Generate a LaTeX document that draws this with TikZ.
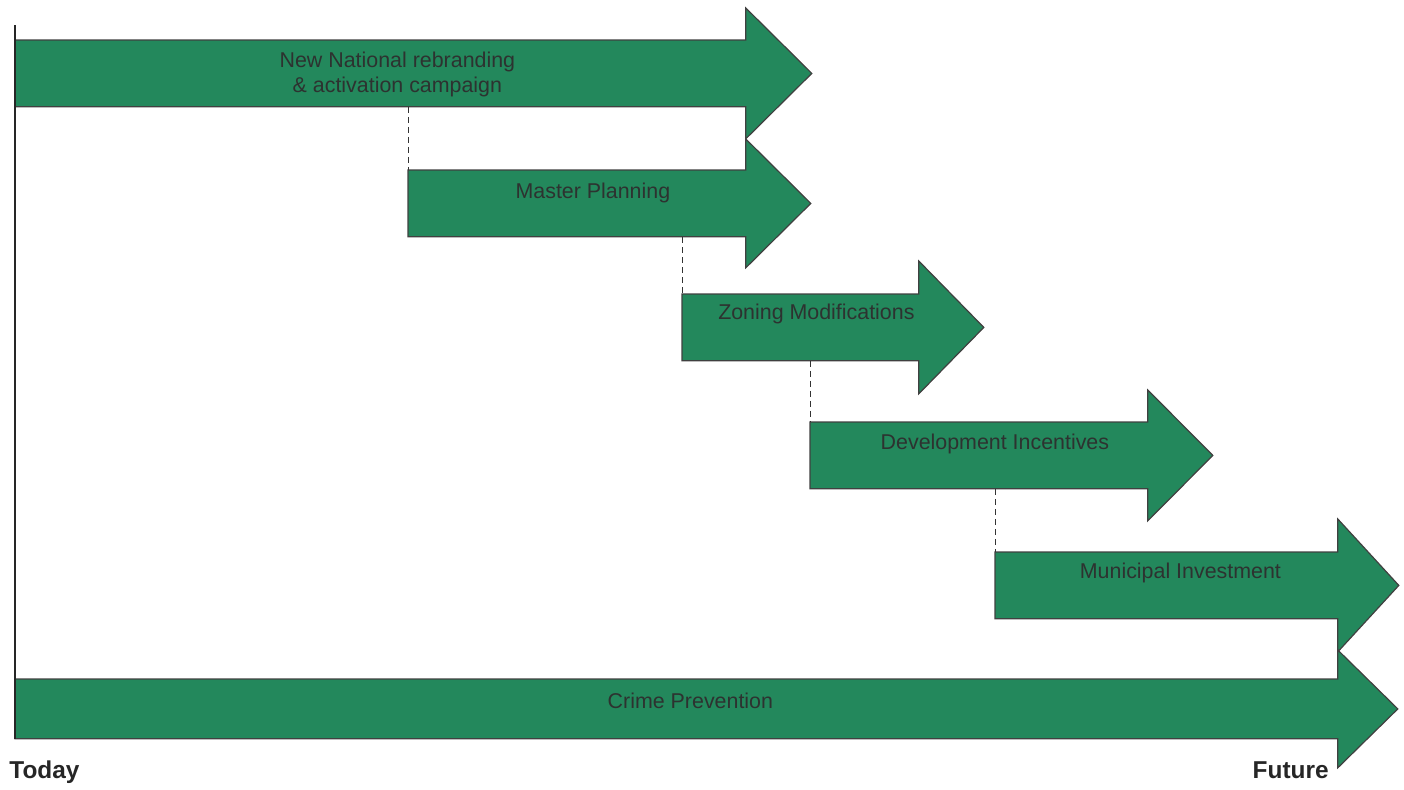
\documentclass[tikz,border=0pt]{standalone}
\usepackage{fontspec}
\setmainfont{Liberation Sans}
\usepackage{xcolor}
\usetikzlibrary{calc, backgrounds}

\definecolor{bargreen}{RGB}{35,136,92}
\definecolor{bartext}{RGB}{45,50,48}

\begin{document}
\begin{tikzpicture}[
x=0.5pt, y=-0.5pt,
body/.style={rectangle, inner sep=0pt, anchor=north west, minimum height=33pt},
bartxt/.style={font=\fontsize{10.7}{12.5}\selectfont, text=bartext, align=center},
barshape/.style={fill=bargreen, draw=black!75, line width=0.6pt, line join=miter},
guide/.style={dashed, black!80, line width=0.5pt, dash pattern=on 3pt off 2pt},
endtxt/.style={font=\fontsize{12.2}{14}\selectfont\bfseries, text=black!85, inner sep=0pt}
]
\useasboundingbox (0,0) rectangle (1404,789);

% bodies of the bars
\node[body, minimum width=365pt] (nat) at (15,40) {};
\node[body, minimum width=168.5pt] (plan) at (408,170) {};
\node[body, minimum width=118pt] (zone) at (682,294) {};
\node[body, minimum width=168.5pt] (incent) at (810,422) {};
\node[body, minimum width=171pt] (invest) at (995,552) {};
\node[body, minimum width=661pt, minimum height=29.5pt] (crime) at (15,679) {};

% labels
\node[bartxt] at ([shift={(17,1)}]nat.center) {New National rebranding\\\& activation campaign};
\node[bartxt] at ([shift={(16,-10)}]plan.center) {Master Planning};
\node[bartxt] at ([shift={(16,-13)}]zone.center) {Zoning Modifications};
\node[bartxt] at ([shift={(16,-11)}]incent.center) {Development Incentives};
\node[bartxt] at ([shift={(14,-12)}]invest.center) {Municipal Investment};
\node[bartxt] at ([shift={(14,-8)}]crime.center) {Crime Prevention};

\node[endtxt, anchor=base west] (today) at (9,778) {Today};
\node[endtxt, anchor=base east] (future) at (1329,778) {Future};

% arrow shapes
\begin{scope}[on background layer]
\foreach \b/\h/\l in {nat/32/66, plan/31/65, zone/33/65, incent/32/65, invest/33/61, crime/29/60}
  \draw[barshape] (\b.south west) -- (\b.north west) -- (\b.north east) -- ++(0,-\h)
    -- ($(\b.east)+(\l,0)$) -- ($(\b.south east)+(0,\h)$) -- (\b.south east) -- cycle;
\end{scope}

% time axis and links
\draw[black!85, line width=0.6pt] ([shift={(0,-15)}]nat.north west) -- (crime.south west);
\draw[guide] (nat.south -| plan.north west) -- (plan.north west);
\draw[guide] (plan.south -| zone.north west) -- (zone.north west);
\draw[guide] (zone.south -| incent.north west) -- (incent.north west);
\draw[guide] (incent.south -| invest.north west) -- (invest.north west);

\end{tikzpicture}
\end{document}
